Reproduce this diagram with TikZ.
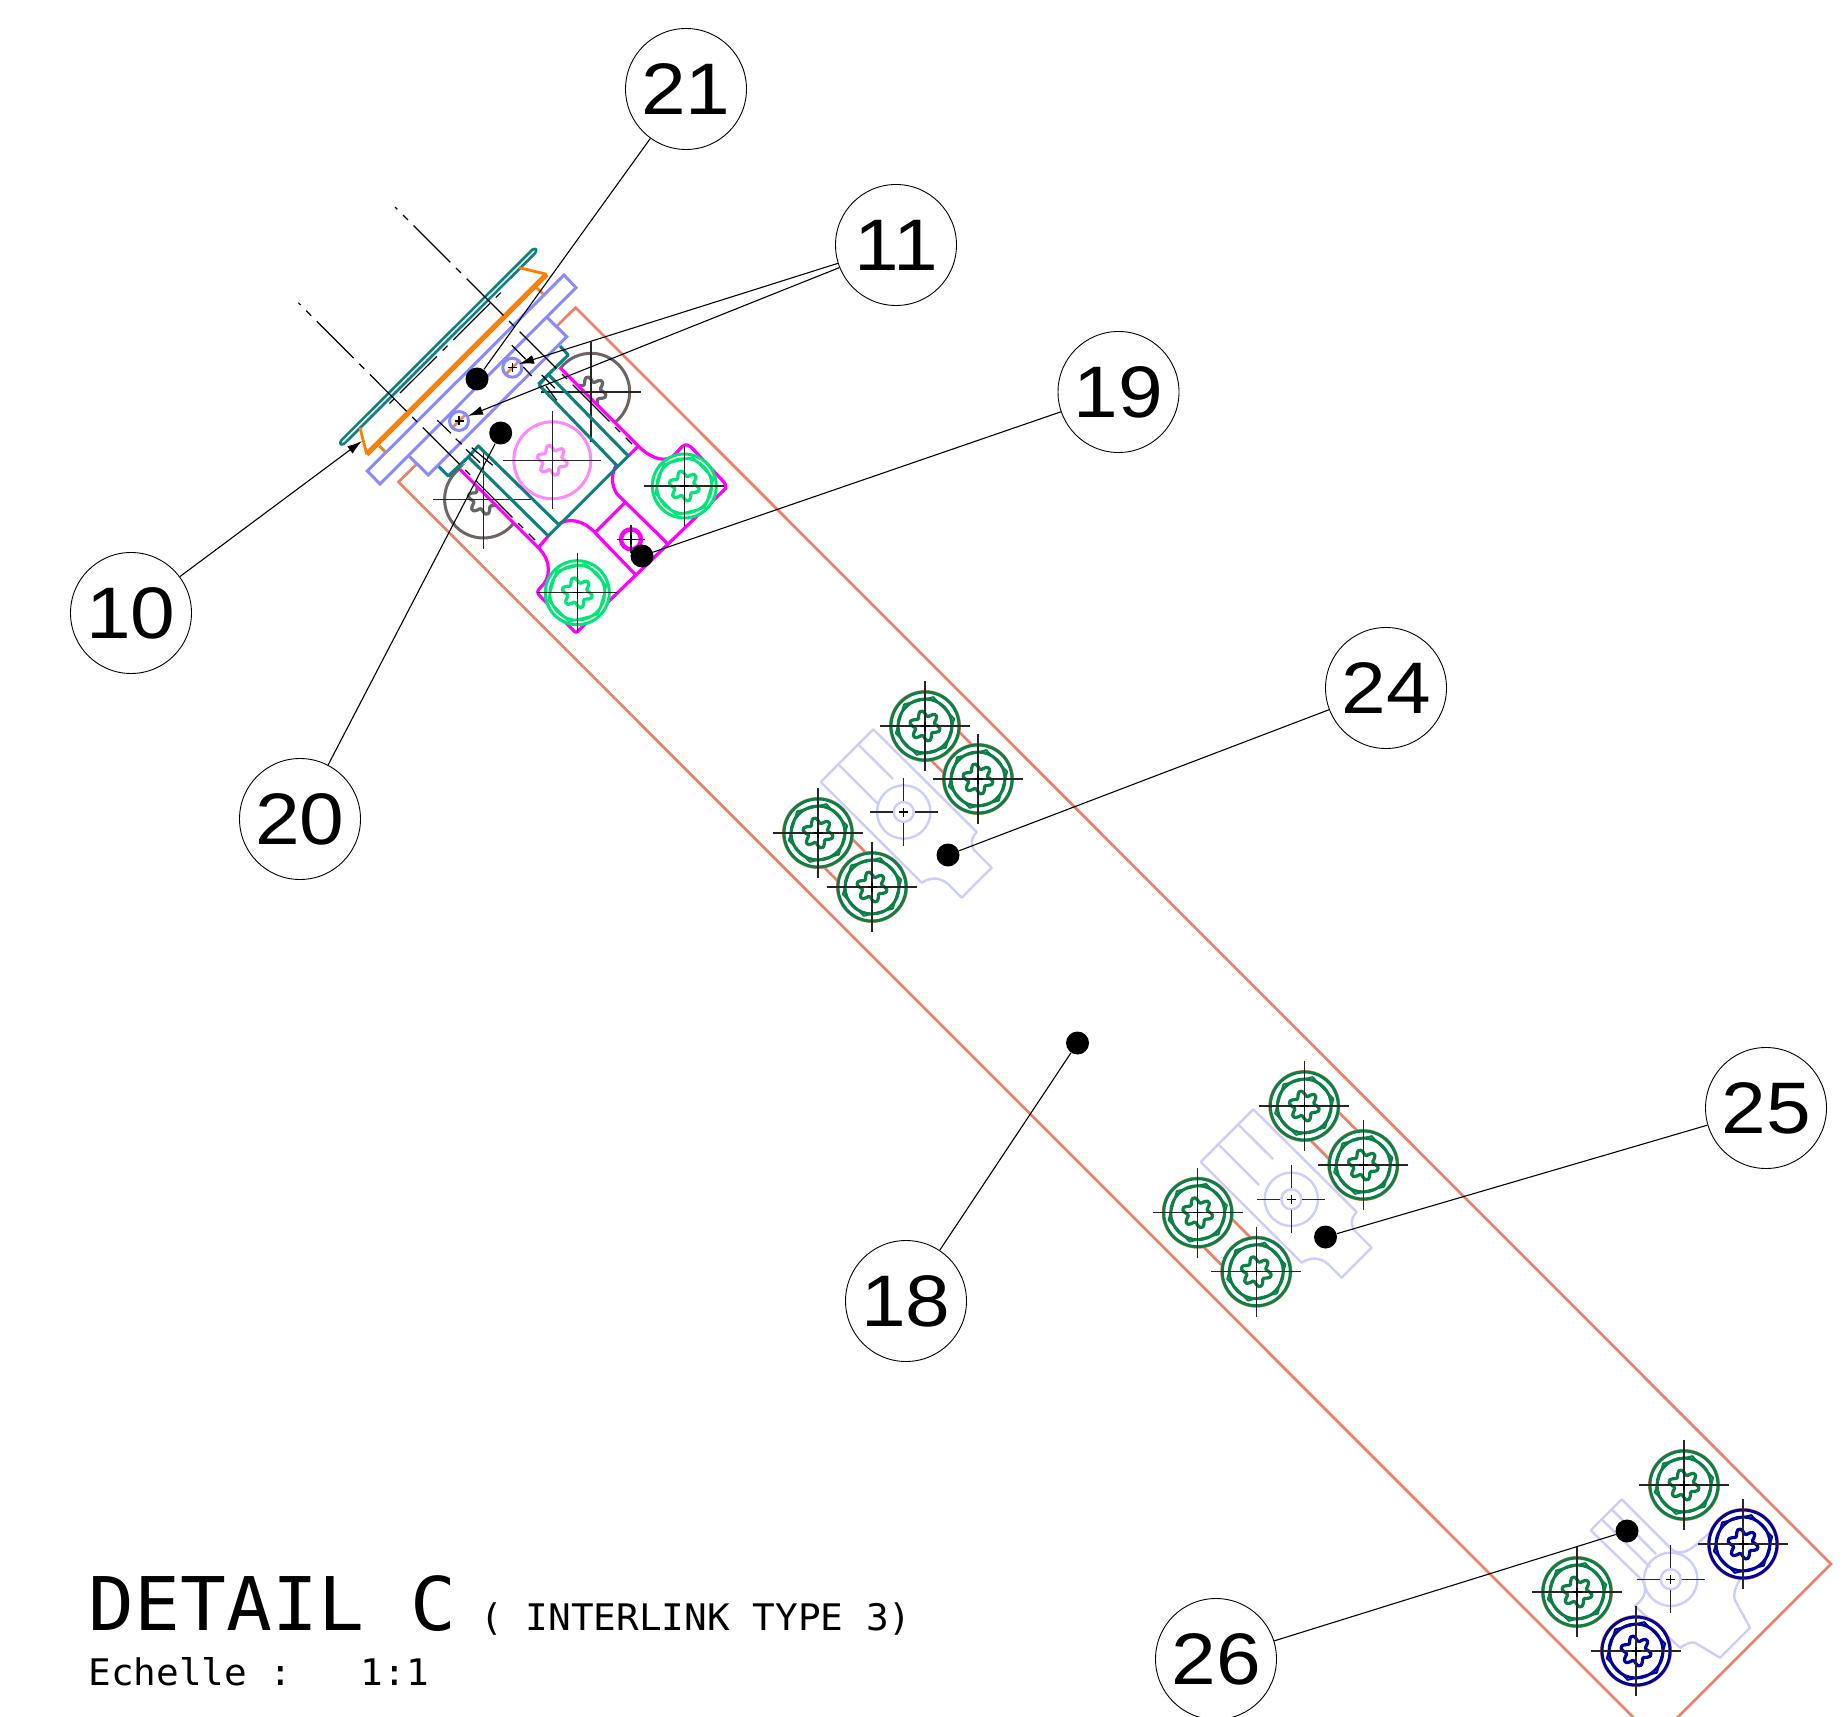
\documentclass[tikz,border=0pt]{standalone}
\usepackage{fontspec}
\setmainfont[FakeStretch=1.1]{Liberation Sans}
\newfontfamily\titlefont[FakeStretch=1.03]{DejaVu Sans Mono}
\usetikzlibrary{arrows.meta}
\definecolor{salmon}{HTML}{E8826A}
\definecolor{tealc}{HTML}{0F7F80}
\definecolor{orangec}{HTML}{FF8000}
\definecolor{bluel}{HTML}{8A8AFF}
\definecolor{magentac}{HTML}{FF00FF}
\definecolor{pinkc}{HTML}{FF88FF}
\definecolor{brightg}{HTML}{00E676}
\definecolor{darkg}{HTML}{0A8044}
\definecolor{navyc}{HTML}{0000A0}
\definecolor{palep}{HTML}{CCCCFF}
\definecolor{greyc}{HTML}{666666}
\tikzset{
  balloon/.style={circle,draw=black,fill=white,line width=.45pt,minimum size=60.5pt,inner sep=0pt,font=\fontsize{36.5}{36.5}\selectfont},
  dotmark/.style={circle,fill=black,minimum size=11.5pt,inner sep=0pt},
  leader/.style={line width=.55pt,black},
  arrowleader/.style={leader,-{Latex[length=7.5pt,width=4.5pt]}},
  axisline/.style={line width=.6pt,black,dash pattern=on 26pt off 4pt on 3.5pt off 4pt},
  thinline/.style={line width=.6pt,black},
  cross/.style={line width=.75pt,black!85},
  salmonline/.style={salmon,line width=1.35pt},
  tealline/.style={tealc,line width=1.55pt,line join=round},
  blueline/.style={bluel,line width=1.5pt,line join=miter},
  magline/.style={magentac,line width=1.6pt},
  plateline/.style={palep,line width=1.2pt},
  titletext/.style={inner sep=0pt,anchor=base west,text=black},
}
\newcommand\crosshair[3]{\draw[cross] (#1-#3,#2) -- (#1+#3,#2) (#1,#2-#3) -- (#1,#2+#3);}
\newcommand\tinycross[2]{\draw[line width=.6pt,black] (#1-4.5,#2) -- (#1+4.5,#2) (#1,#2-4.5) -- (#1,#2+4.5);}
\newcommand\torx[4]{\draw[#3,line width=#4,line join=round] plot[smooth cycle,domain=0:350,samples=36] ({#1+(12.6+2.9*cos(6*(\x-15)))*cos(\x)},{#2+(12.6+2.9*cos(6*(\x-15)))*sin(\x)});}
\newcommand\hexa[4]{\draw[#3,line width=#4,line join=round] plot[domain=-14:286,samples=6] ({#1+30*cos(\x)},{#2+30*sin(\x)}) -- cycle;}
% x y colour
\newcommand\screw[3]{%
  \fill[white] (#1,#2) circle[radius=35];
  \draw[salmon,line width=.8pt] (#1,#2) circle[radius=35.2];
  \draw[#3,line width=1.5pt] (#1,#2) circle[radius=34];
  \draw[#3,line width=1.5pt] (#1,#2) circle[radius=27];
  \hexa{#1}{#2}{#3}{1pt}
  \torx{#1}{#2}{#3}{1.6pt}
  \crosshair{#1}{#2}{45}
  \tinycross{#1}{#2}}
\newcommand\brightscrew[2]{%
  \fill[white] (#1,#2) circle[radius=32];
  \draw[brightg,line width=1.5pt] (#1,#2) circle[radius=32];
  \draw[brightg,line width=1.3pt] (#1,#2) circle[radius=27.5];
  \hexa{#1}{#2}{brightg}{1pt}
  \torx{#1}{#2}{brightg}{1.6pt}
  \crosshair{#1}{#2}{40}
  \tinycross{#1}{#2}}
\newcommand\greyscrew[2]{%
  \draw[salmon,line width=.8pt] (#1,#2) circle[radius=39.4];
  \draw[greyc,line width=1.4pt] (#1,#2) circle[radius=38.6];
  \torx{#1}{#2}{greyc}{1.6pt}}
\newcommand\platehole[2]{%
  \draw[plateline] (#1,#2) circle[radius=26.7] (#1,#2) circle[radius=10];
  \draw[cross] (#1-34,#2) -- (#1-11,#2) (#1+11,#2) -- (#1+34,#2) (#1,#2-34) -- (#1,#2-11) (#1,#2+11) -- (#1,#2+34);
  \tinycross{#1}{#2}}
\newcommand\plate[2]{%
  \begin{scope}[shift={(#1,#2)}]
  \draw[plateline,line join=round] (820.7,781) -- (873.3,728.3) -- (976.7,831)
    .. controls (970,838) and (970,846) .. (977,852) -- (991.7,866.7) -- (961.7,896.7) -- (948,883)
    .. controls (940,876) and (930,876) .. (921.7,881.7) -- cycle;
  \draw[plateline] (838.3,763.3) -- (879,804) (858,743.3) -- (893,778);
  \end{scope}}
\begin{document}
\begin{tikzpicture}[x=.5pt,y=-.5pt]
\path[use as bounding box] (0,0) rectangle (1842,1717);
\clip (0,0) rectangle (1842,1717);
\begin{scope}[shift={(0,1)}]
% long bar
\draw[salmonline,line join=miter] (575.6,306.6) -- (1831,1563) -- (1655.5,1738.5) -- (398.5,481) -- cycle;
% slots
\foreach \ax/\ay/\bx/\by in {925/725/978/778,818/832/872/886,1304.3/1105/1363.3/1164,1197.7/1211.7/1256.3/1270.7}{
  \draw[salmonline] (\ax+14.1,\ay-14.1) -- (\bx+14.1,\by-14.1) (\ax-14.1,\ay+14.1) -- (\bx-14.1,\by+14.1);
}
% plates
\plate{0}{0}
\plate{380}{380}
\platehole{903.7}{811}
\platehole{1291.3}{1198.3}
% last plate
\draw[plateline,line join=round] (1590.7,1529.3) -- (1621.7,1498.3) -- (1672,1548.6)
  .. controls (1680,1555) and (1690,1550) .. (1700,1540) -- (1712,1530);
\draw[plateline,line join=round] (1740,1578) .. controls (1733,1590) and (1733,1598) .. (1737,1603) -- (1750,1626.7) -- (1720,1656.7) -- (1695,1641.7)
  .. controls (1690,1640) and (1685,1644) .. (1680,1646.7) -- (1635,1605)
  .. controls (1645,1597) and (1647,1590) .. (1643,1580) -- (1590.7,1529.3);
\draw[plateline] (1601.7,1518.3) -- (1650,1566) (1611.7,1508.3) -- (1656,1553);
\platehole{1670.7}{1578.3}
% fasteners
\screw{925}{725}{darkg}
\screw{978}{778}{darkg}
\screw{818}{832}{darkg}
\screw{872}{886}{darkg}
\screw{1304.3}{1105}{darkg}
\screw{1363.3}{1164}{darkg}
\screw{1197.7}{1211.7}{darkg}
\screw{1256.3}{1270.7}{darkg}
\screw{1684}{1484}{darkg}
\screw{1577}{1591}{darkg}
\screw{1743}{1543}{navyc}
\screw{1636}{1650}{navyc}
% grey screws under the magenta body
\greyscrew{591}{391}
\greyscrew{483.3}{498.3}
% magenta body
\fill[white] (560,366.7) -- (638.3,445) .. controls (648,455) and (662,462) .. (672,456) .. controls (677,452) and (680,447) .. (683,445) .. controls (686,443) and (689,444) .. (691,446) -- (722,479) .. controls (727,484) and (727,487) .. (723,490) -- (579,629) .. controls (577,632) and (575,632) .. (573,629) -- (540,595) .. controls (537,592) and (537,590) .. (540,587) .. controls (551,578) and (552,560) .. (538.3,546.7) -- (460,468.3) -- cycle;
\draw[magline,line join=round] (560,366.7) -- (638.3,445) .. controls (648,455) and (662,462) .. (672,456) .. controls (677,452) and (680,447) .. (683,445) .. controls (686,443) and (689,444) .. (691,446) -- (722,479) .. controls (727,484) and (727,487) .. (723,490) -- (579,629) .. controls (577,632) and (575,632) .. (573,629) -- (540,595) .. controls (537,592) and (537,590) .. (540,587) .. controls (551,578) and (552,560) .. (538.3,546.7) -- (460,468.3);
\draw[magline] (638.3,445) -- (628.3,455) (548.3,535) -- (538.3,546.7);
\draw[magline] (617,463) .. controls (611,472) and (611,484) .. (617,493) -- (668.3,543.3);
\draw[magline] (558.3,523.3) .. controls (568,517) and (582,518) .. (595,531.7) -- (636.7,575);
\draw[magline] (625,501.7) -- (595,531.7);
\brightscrew{684.3}{485}
\brightscrew{577.3}{591.7}
\draw[magentac,line width=2.2pt] (631,538.3) circle[radius=10];
\draw[cross] (631-14,538.3) -- (631+14,538.3) (631,538.3-14) -- (631,538.3+14);
\tinycross{631}{538.3}
% central washer
\draw[pinkc,line width=1.5pt] (552.3,459.3) circle[radius=38.5];
\torx{552.3}{459.3}{pinkc}{1.6pt}
\crosshair{552.3}{459.3}{49}
\crosshair{591}{391}{50}
\crosshair{483.3}{498.3}{50}
% teal parts
\draw[tealline] (560,345) -- (568.3,354) -- (538.3,383.3);
\draw[tealline] (539,384) -- (548.3,373.3) -- (628.3,455) -- (548.3,535) -- (468.3,456) -- (478.3,445) -- (558.3,523.3);
\draw[tealline] (539,384) -- (617.3,465);
\draw[tealline] (468.3,456) -- (448.3,475) -- (438.3,465);
\draw[tealline,line width=1.3pt,rounded corners=1.5pt] (534.3,246.7) -- (537.3,249.9) -- (342.3,444.6) -- (339.2,441.4) -- cycle;
% orange
\draw[orangec,line width=2.6pt,line join=round] (546.7,273.3) -- (366.7,453.3);
\draw[orangec,line width=1.4pt,line join=round] (519.3,266.7) -- (546.7,273.3) (360,426.7) -- (366.7,453.3);
\draw[orangec,line width=1.4pt] (536,286) -- (543.3,293.3) (379.3,445) -- (386,451.7);
% blue parts
\fill[white] (546.7,316) -- (566.7,335.7) -- (428.3,474) -- (409,455) -- cycle;
\draw[blueline] (564,274) -- (576,286.7) -- (380,483) -- (367.3,470) -- cycle;
\draw[blueline] (546.7,316) -- (566.7,335.7) -- (428.3,474) -- (409,455);
\draw[salmon,line width=1.35pt] (505.5,373.5) -- (519,360) (452.5,426.5) -- (466,413);
\draw[bluel,line width=1.5pt] (512.3,366.7) circle[radius=9.5] (459,420) circle[radius=9.5];
\tinycross{512.3}{366.7}
\tinycross{459}{420}
% centre lines
\draw[axisline,dash phase=24.35pt] (395,206) -- (632,443);
\draw[axisline,dash phase=24.35pt] (298.3,301.7) -- (535,539);
\draw[axisline,dash pattern=on 3.5pt off 4pt on 26pt off 4pt] (500.7,291.7) -- (384.3,407.7);
\draw[thinline] (511.7,344.3) -- (525.7,358.3) (523.3,366) -- (531.7,375) (541.7,374) -- (555,387.3) (546,385) -- (556.7,399.3);
\draw[thinline] (437.3,419.3) -- (451,432.3) (455.7,437.7) -- (461.7,443.3) (466,448.3) -- (480,461.7) (471.7,446.7) -- (492.7,464.3);
% callout balloons
\node[balloon] (b21) at (686,88) {21};
\node[balloon] (b11) at (896,244) {11};
\node[balloon] (b19) at (1118.5,391) {19};
\node[balloon] (b24) at (1386,687) {24};
\node[balloon] (b25) at (1766,1107) {25};
\node[balloon] (b18) at (906,1300) {18};
\node[balloon] (b26) at (1216,1658) {26};
\node[balloon] (b10) at (131,612) {10};
\node[balloon] (b20) at (300,818) {20};
% dots
\node[dotmark] (d21) at (477,378) {};
\node[dotmark] (d20) at (500.7,432) {};
\node[dotmark] (d19) at (642,555) {};
\node[dotmark] (d24) at (948,854) {};
\node[dotmark] (d25) at (1325.5,1236) {};
\node[dotmark] (d18) at (1077.5,1042) {};
\node[dotmark] (d26) at (1627,1530) {};
\coordinate (t11a) at (519,363);
\coordinate (t11b) at (468,415);
\coordinate (t10) at (362,440);
% leaders
\draw[leader] (b21) -- (d21);
\draw[leader] (b20) -- (d20);
\draw[leader] (b19) -- (d19);
\draw[leader] (b24) -- (d24);
\draw[leader] (b25) -- (d25);
\draw[leader] (b18) -- (d18);
\draw[leader] (b26) -- (d26);
\draw[arrowleader] (b11) -- (t11a);
\draw[arrowleader] (b11) -- (t11b);
\draw[arrowleader] (b10) -- (t10);
% title
\node[titletext,font=\titlefont\fontsize{37}{37}\selectfont] (title) at (88.5,1629) {DETAIL C};
\node[titletext,font=\titlefont\fontsize{18.3}{18.3}\selectfont] (subtitle) at (480,1629) {( INTERLINK TYPE 3)};
\node[titletext,font=\titlefont\fontsize{18.3}{18.3}\selectfont] (scale) at (88,1684) {Echelle :\ \ \ 1:1};
\end{scope}
\end{tikzpicture}
\end{document}
